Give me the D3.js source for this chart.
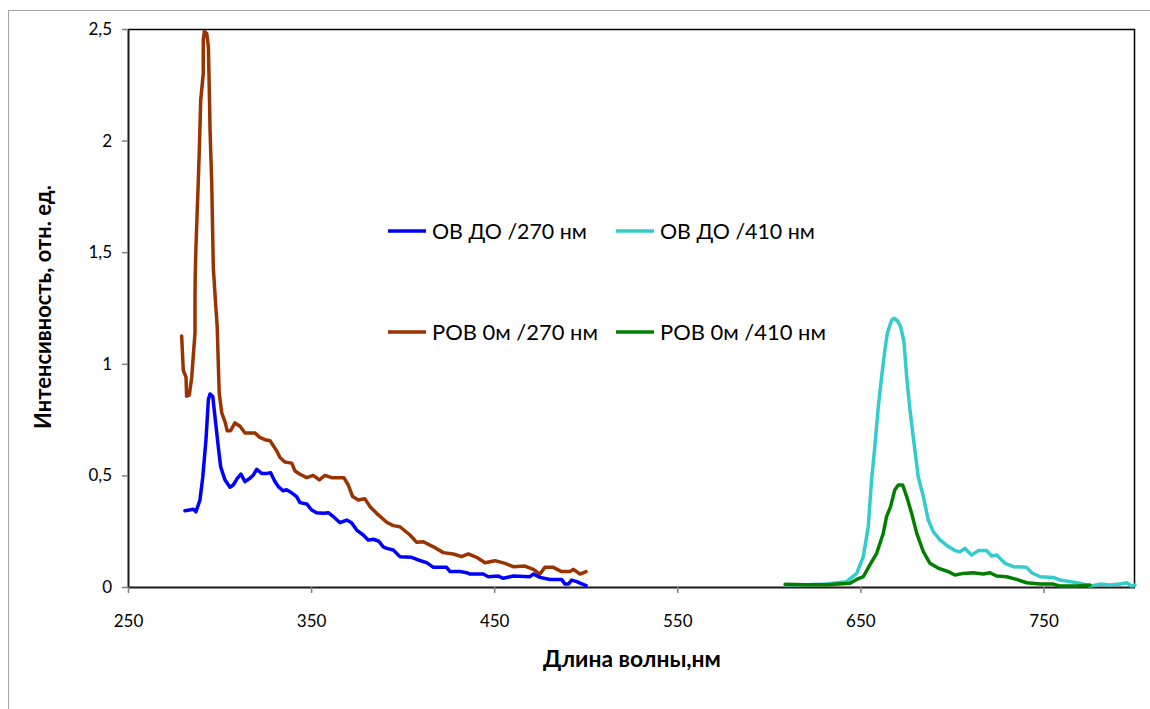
<!DOCTYPE html>
<html><head><meta charset="utf-8">
<script src="https://cdn.jsdelivr.net/npm/d3@7"></script>
<style>
html,body{margin:0;padding:0;background:#fff;}
svg{display:block;font-family:Lato,"Open Sans",sans-serif;}
</style></head>
<body><svg id="c" width="1150" height="709"></svg>
<script>
// ---- data (wavelength nm, intensity rel. units) ----
const xTicks = [250, 350, 450, 550, 650, 750];
const yTicks = [0, 0.5, 1, 1.5, 2, 2.5];
const yTickLabels = ["0", "0,5", "1", "1,5", "2", "2,5"];
const seriesNames = ["ОВ ДО /270 нм", "ОВ ДО /410 нм", "РОВ 0м /270 нм", "РОВ 0м /410 нм"];
const seriesColors = ["#0000ff", "#33cccc", "#993300", "#008000"];

const ovdo270 = [[281.1,0.342],[283.5,0.345],[285.7,0.348],[287.1,0.337],[289.3,0.39],[290.8,0.49],[292.6,0.66],[293.9,0.84],[294.8,0.865],[296.3,0.853],[297.5,0.763],[299.3,0.629],[300.6,0.539],[303,0.479],[305.7,0.447],[307.5,0.457],[309.7,0.487],[311.7,0.506],[313.9,0.472],[316.6,0.487],[318.5,0.502],[320.3,0.527],[323,0.509],[325.8,0.509],[327.9,0.512],[330.3,0.472],[332.1,0.45],[334.8,0.431],[336.6,0.436],[339.4,0.422],[342.1,0.405],[343.9,0.378],[347.6,0.372],[350.3,0.345],[353,0.333],[356.6,0.33],[359.4,0.333],[361.8,0.318],[365.8,0.288],[369.4,0.3],[372.1,0.288],[374.9,0.255],[378.5,0.233],[381.2,0.21],[384,0.214],[387,0.205],[389.4,0.18],[391.3,0.173],[394.9,0.166],[398.5,0.136],[404.9,0.133],[408.5,0.121],[413.1,0.109],[416.8,0.088],[424,0.088],[425.9,0.069],[431.3,0.069],[435,0.064],[436.8,0.058],[444,0.058],[446.8,0.046],[452.3,0.049],[455,0.039],[460.4,0.049],[469.5,0.046],[471.4,0.058],[475,0.043],[480.5,0.034],[486.8,0.034],[488.7,0.013],[490.5,0.013],[492.3,0.031],[495.1,0.024],[496.9,0.017],[500.2,0.006]];

const rov270 = [[279.3,1.125],[280.2,0.97],[281.7,0.94],[282,0.855],[283.5,0.86],[284.8,0.94],[286.6,1.14],[286.6,1.29],[286.7,1.39],[287.1,1.52],[288.4,1.82],[289,1.97],[289.7,2.18],[291.1,2.3],[291.1,2.45],[291.7,2.49],[293,2.48],[293.9,2.42],[294.4,2.23],[294.8,2.05],[295.7,1.82],[296.6,1.43],[298,1.25],[298.7,1.17],[299.8,0.87],[301.2,0.78],[303,0.74],[304.2,0.7],[306,0.7],[308.4,0.735],[311.2,0.72],[313.9,0.69],[316.6,0.69],[319.4,0.69],[322,0.67],[324.8,0.66],[327.6,0.655],[331.2,0.61],[333,0.58],[335.7,0.56],[339.4,0.555],[341.2,0.52],[343.9,0.505],[347.6,0.49],[351.2,0.5],[354.5,0.48],[357.6,0.5],[361.2,0.49],[365.7,0.49],[367.9,0.49],[370.3,0.457],[372.7,0.405],[375.8,0.39],[379.4,0.395],[382.2,0.36],[385.8,0.33],[388.5,0.31],[391.3,0.29],[394.9,0.275],[398.5,0.27],[404,0.233],[407.7,0.2],[411.3,0.203],[416.8,0.18],[422.2,0.154],[427.7,0.148],[432.2,0.136],[435.9,0.148],[440.4,0.133],[445,0.109],[450.4,0.118],[455.9,0.106],[460.4,0.091],[466.8,0.094],[471.4,0.079],[475,0.058],[477.7,0.088],[482.3,0.088],[486.8,0.069],[491.4,0.069],[493.2,0.079],[496.9,0.058],[500.2,0.069]];

const ovdo410 = [[609,0.01],[620,0.01],[631.6,0.013],[642.5,0.024],[648,0.061],[651.6,0.136],[654.3,0.27],[656.1,0.479],[657.9,0.629],[659.8,0.808],[661.6,0.942],[663.4,1.062],[664.7,1.137],[667.1,1.196],[668.4,1.204],[670.2,1.193],[672,1.166],[673.8,1.099],[675.3,0.942],[677.1,0.793],[679.3,0.644],[681.6,0.494],[684.4,0.405],[687.1,0.3],[689.8,0.248],[693.5,0.211],[698,0.181],[701.7,0.163],[704.4,0.158],[707.1,0.173],[710.8,0.143],[714.4,0.163],[719,0.163],[721.7,0.139],[724.4,0.143],[729,0.106],[733.6,0.091],[740.8,0.088],[743.6,0.064],[748.2,0.046],[755.4,0.043],[759.1,0.031],[764.5,0.024],[770,0.017],[775.4,0.004],[780.9,0.013],[786.3,0.009],[791.8,0.013],[795.4,0.019],[798.1,0.004],[800,0.01]];

const rov410 = [[608.9,0.012],[620,0.01],[631.6,0.01],[644.3,0.017],[648,0.034],[651.6,0.046],[655.2,0.099],[658.9,0.151],[662.5,0.24],[664.3,0.315],[666.5,0.36],[668.8,0.435],[670.7,0.457],[673.1,0.457],[675.3,0.405],[678,0.33],[680.8,0.24],[684.4,0.158],[688,0.106],[692.6,0.084],[698,0.069],[701.7,0.054],[706.2,0.061],[711.6,0.064],[717.1,0.058],[720.8,0.064],[724.4,0.049],[729.9,0.046],[735.3,0.034],[740.8,0.019],[748.2,0.013],[755.4,0.013],[759.1,0.004],[768.2,0.004],[775.4,0.009]];

const seriesData = [ovdo270, ovdo410, rov270, rov410];
const drawOrder = [2, 0, 1, 3];

// ---- layout ----
const svg = d3.select("#c");
const L = 128, R = 1135, T = 29, B = 587;
const x = d3.scaleLinear().domain([250, 800]).range([L, R]);
const y = d3.scaleLinear().domain([0, 2.5]).range([B, T]);

// fit a text element's font size to a target width
function fit(sel, base, target) {
  sel.attr("font-size", base);
  const w = sel.node().getComputedTextLength();
  if (w > 0) sel.attr("font-size", base * target / w);
  return sel;
}

// outer chart frame
svg.append("rect").attr("x", 8.5).attr("y", 10.5).attr("width", 1300).attr("height", 900)
  .attr("fill", "none").attr("stroke", "#a6a6a6").attr("stroke-width", 1);

// plot area border (top & right)
svg.append("path").attr("d", `M${L},${T + 0.5}H${R - 0.5}V${B}`)
  .attr("fill", "none").attr("stroke", "#000").attr("stroke-width", 1.5);

// axes
const xAxis = d3.axisBottom(x).tickValues(xTicks).tickSize(6).tickPadding(22).tickFormat(d3.format("d"));
const gx = svg.append("g").attr("transform", `translate(0,${B})`).call(xAxis);
const yAxis = d3.axisLeft(y).tickValues(yTicks).tickSize(6).tickPadding(10)
  .tickFormat((d, i) => yTickLabels[i]);
const gy = svg.append("g").attr("transform", `translate(${L},0)`).call(yAxis);
[gx, gy].forEach(g => {
  g.select(".domain").attr("stroke", "#1a1a1a").attr("stroke-width", 2);
  g.selectAll(".tick line").attr("stroke", "#808080").attr("stroke-width", 1.5);
  g.selectAll(".tick text").attr("font-size", 17).attr("fill", "#000")
    .attr("font-family", "Lato, 'Open Sans', sans-serif");
});
gx.select(".domain").attr("d", `M${L},0.5H${R}`);
gy.select(".domain").attr("d", `M0.5,${B}V${T}`);

// lines
const line = d3.line().x(d => x(d[0])).y(d => y(d[1]));
const gl = svg.append("g");
drawOrder.forEach(i => {
  gl.append("path").datum(seriesData[i]).attr("d", line)
    .attr("fill", "none").attr("stroke", seriesColors[i]).attr("stroke-width", 3.5)
    .attr("stroke-linejoin", "round").attr("stroke-linecap", "round");
});

// legend
const legPos = [[388, 231], [616, 231], [388, 332], [616, 332]];
const legW = [155, 155, 166, 166];
seriesNames.forEach((n, i) => {
  const [lx, ly] = legPos[i];
  svg.append("line").attr("x1", lx).attr("x2", lx + 38).attr("y1", ly).attr("y2", ly)
    .attr("stroke", seriesColors[i]).attr("stroke-width", 3.5);
  const t = svg.append("text").attr("x", lx + 44).attr("y", ly + 7.5)
    .attr("fill", "#000").text(n);
  fit(t, 20, legW[i]);
});

// axis titles
fit(svg.append("text").attr("x", 632).attr("y", 667).attr("text-anchor", "middle")
  .attr("font-weight", "bold").text("Длина волны,нм"), 20, 178);
fit(svg.append("text").attr("transform", "translate(51,307) rotate(-90)").attr("text-anchor", "middle")
  .attr("font-weight", "bold").text("Интенсивность, отн. ед."), 19, 244);
</script></body></html>
